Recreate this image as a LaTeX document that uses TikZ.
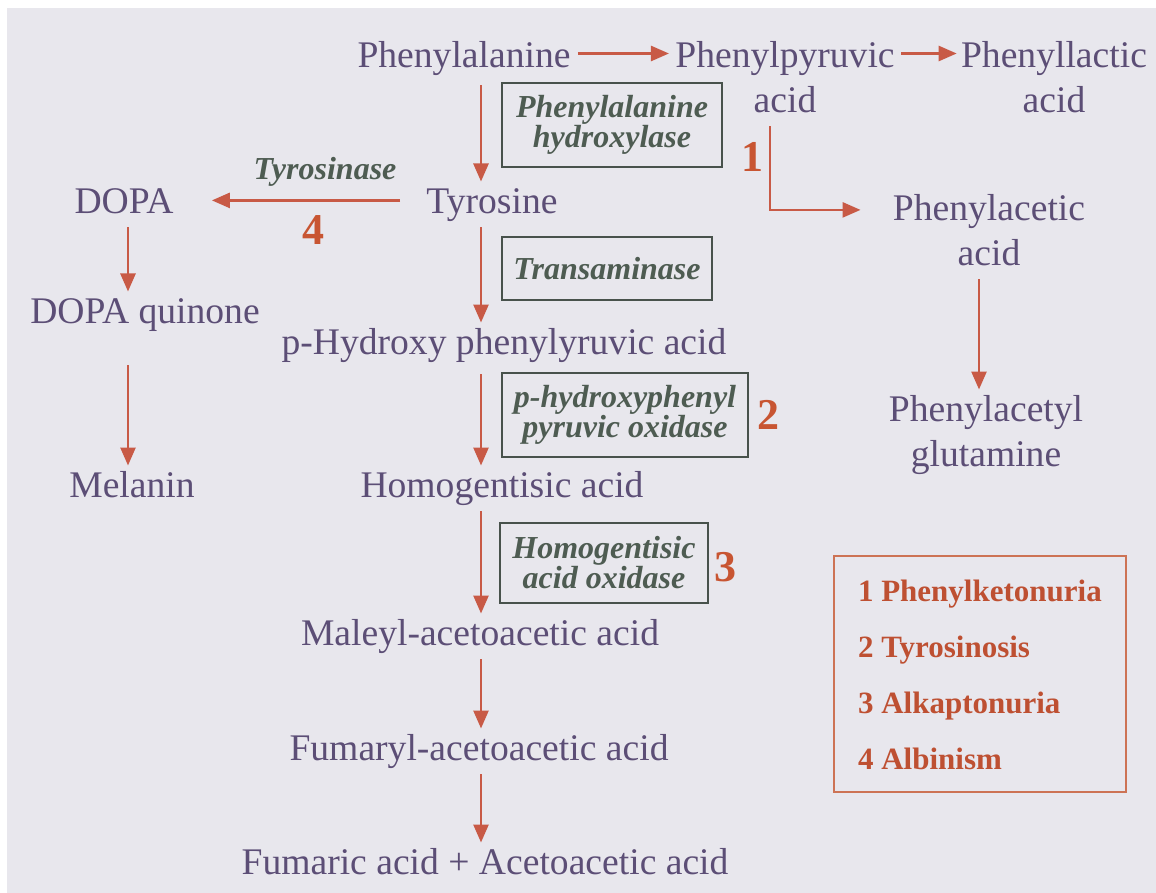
\documentclass[tikz,border=0pt]{standalone}
\usepackage{fontspec}
\setmainfont{Liberation Serif}
\usetikzlibrary{arrows.meta}
\definecolor{bgc}{RGB}{232,231,237}
\definecolor{chemc}{RGB}{92,78,118}
\definecolor{arrc}{RGB}{200,90,70}
\definecolor{enzc}{RGB}{78,92,82}
\definecolor{boxc}{RGB}{72,82,76}
\definecolor{numc}{RGB}{200,85,50}
\definecolor{legc}{RGB}{190,80,50}
\definecolor{legbox}{RGB}{205,115,85}
\newcommand{\chemfont}{\fontsize{18.8}{22.5}\selectfont}
\newcommand{\enzfont}{\fontsize{16}{15}\selectfont\bfseries\itshape}
\newcommand{\numfont}{\fontsize{22}{24}\selectfont\bfseries}
\newcommand{\legfont}{\fontsize{15.5}{28}\selectfont\bfseries}
\begin{document}
\begin{tikzpicture}[x=0.5pt,y=-0.5pt,
  chem/.style={font=\chemfont,text=chemc,inner sep=0pt,anchor=north,align=center},
  enz/.style={draw=boxc,line width=1.4pt,font=\enzfont,text=enzc,align=center,inner sep=0pt},
  enzlab/.style={font=\enzfont,text=enzc,inner sep=0pt},
  num/.style={font=\numfont,text=numc,inner sep=0pt},
  legend/.style={draw=legbox,line width=0.9pt,font=\legfont,text=legc,align=left,inner xsep=11pt,inner ysep=3pt,minimum width=146pt},
  arr/.style={draw=arrc,line width=1.3pt,-{Triangle[length=9pt,width=7.5pt]}}]
\useasboundingbox (0,0) rectangle (1156,893);
\fill[white] (0,0) rectangle (1156,893);
\fill[bgc] (7,8) rectangle (1156,893);
\coordinate (col) at (481,0);
% chemical nodes (north = first baseline - 31.5)
\node[chem] (pa)  at (464,35.5)  {\strut Phenylalanine};
\node[chem] (ppa) at (785,35.5)  {\strut Phenylpyruvic\\\strut acid};
\node[chem] (pla) at (1054,35.5) {\strut Phenyllactic\\\strut acid};
\node[chem] (tyr) at (492,181.5) {\strut Tyrosine};
\node[chem] (dopa) at (124,181.5) {\strut DOPA};
\node[chem] (pac) at (989,188.5) {\strut Phenylacetic\\\strut acid};
\node[chem] (pag) at (986,389.5) {\strut Phenylacetyl\\\strut glutamine};
\node[chem] (dq)  at (145,291.5) {\strut DOPA quinone};
\node[chem] (mel) at (132,465.5) {\strut Melanin};
\node[chem] (php) at (504,322.5) {\strut p-Hydroxy phenylyruvic acid};
\node[chem] (hga) at (502,465.5) {\strut Homogentisic acid};
\node[chem] (maa) at (480,613.5) {\strut Maleyl-acetoacetic acid};
\node[chem] (faa) at (479,728.5) {\strut Fumaryl-acetoacetic acid};
\node[chem] (fum) at (485,842.5) {\strut Fumaric acid + Acetoacetic acid};
% enzymes
\node[enz,minimum width=110pt,minimum height=42pt] (e1) at (612,125) {Phenylalanine\\hydroxylase};
\node[enz,minimum width=105pt,minimum height=31.5pt] (e2) at (607,268.5) {Transaminase};
\node[enz,minimum width=123pt,minimum height=42pt] (e3) at (625,415) {p-hydroxyphenyl\\pyruvic oxidase};
\node[enz,minimum width=104pt,minimum height=40pt] (e4) at (604,563) {Homogentisic\\acid oxidase};
\node[enzlab] (e5) at (325,172) {Tyrosinase};
% numbers
\node[num] (n1) at (752,157) {1};
\node[num] (n2) at (768,415) {2};
\node[num] (n3) at (725,567) {3};
\node[num] (n4) at (313,230) {4};
% legend
\node[legend,anchor=north west] (leg) at (833,555) {\strut 1 Phenylketonuria\\\strut 2 Tyrosinosis\\\strut 3 Alkaptonuria\\\strut 4 Albinism};
% connectors
\draw[arr,shorten <=3.5pt,shorten >=3pt] ([yshift=-9pt]pa.north east) -- ([yshift=-9pt]ppa.north west);
\draw[arr,shorten <=3pt,shorten >=2pt] ([yshift=-9pt]ppa.north east) -- ([yshift=-9pt]pla.north west);
\draw[arr,shorten <=2pt] (pa.south -| col) -- (tyr.north -| col);
\draw[arr] (tyr.south -| col) -- (php.north -| col);
\draw[arr,shorten <=3pt] (php.south -| col) -- (hga.north -| col);
\draw[arr] (hga.south -| col) -- (maa.north -| col);
\draw[arr] (maa.south -| col) -- (faa.north -| col);
\draw[arr] (faa.south -| col) -- (fum.north -| col);
\draw[arr,shorten <=13pt,shorten >=19pt] ([yshift=2pt]tyr.west) -- ([yshift=2pt]tyr.west -| dopa.east);
\draw[arr] ([xshift=2pt]dopa.south) -- ([xshift=2pt]dopa.south |- dq.north);
\draw[arr,shorten <=14pt] ([xshift=-2pt]mel.north |- dq.south) -- ([xshift=-2pt]mel.north);
\draw[arr] ([xshift=-7.5pt]ppa.south) |- ([xshift=-16pt,yshift=12pt]pac.west);
\draw[arr] ([xshift=-5pt]pac.south) -- ([xshift=-5pt]pac.south |- pag.north);
\end{tikzpicture}
\end{document}
